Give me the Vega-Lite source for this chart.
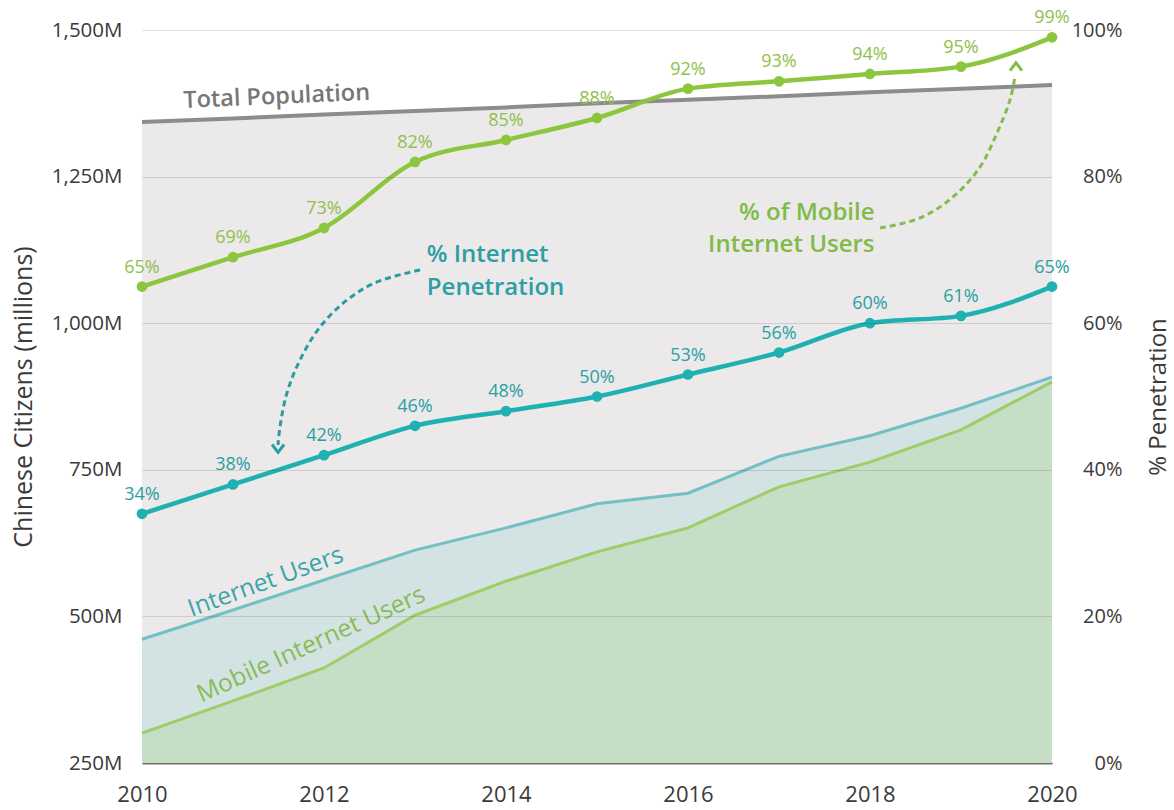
{
  "$schema": "https://vega.github.io/schema/vega-lite/v6.json",
  "width": 910,
  "height": 733,
  "autosize": {"type": "none"},
  "padding": {"left": 142, "top": 30, "right": 122, "bottom": 47},
  "config": {
    "font": "Open Sans",
    "view": {"stroke": null},
    "text": {"font": "Open Sans"}
  },
  "datasets": {
    "main": [
      {"year": 2010, "population": 1343, "internet": 461, "mobile": 301, "internet_pct": 34, "mobile_pct": 65, "internet_label": "34%", "mobile_label": "65%"},
      {"year": 2011, "population": 1349, "internet": 511, "mobile": 356, "internet_pct": 38, "mobile_pct": 69, "internet_label": "38%", "mobile_label": "69%"},
      {"year": 2012, "population": 1356, "internet": 562, "mobile": 412, "internet_pct": 42, "mobile_pct": 73, "internet_label": "42%", "mobile_label": "73%"},
      {"year": 2013, "population": 1362, "internet": 613, "mobile": 502, "internet_pct": 46, "mobile_pct": 82, "internet_label": "46%", "mobile_label": "82%"},
      {"year": 2014, "population": 1368, "internet": 651, "mobile": 560, "internet_pct": 48, "mobile_pct": 85, "internet_label": "48%", "mobile_label": "85%"},
      {"year": 2015, "population": 1375, "internet": 692, "mobile": 610, "internet_pct": 50, "mobile_pct": 88, "internet_label": "50%", "mobile_label": "88%"},
      {"year": 2016, "population": 1381, "internet": 710, "mobile": 651, "internet_pct": 53, "mobile_pct": 92, "internet_label": "53%", "mobile_label": "92%"},
      {"year": 2017, "population": 1387, "internet": 773, "mobile": 721, "internet_pct": 56, "mobile_pct": 93, "internet_label": "56%", "mobile_label": "93%"},
      {"year": 2018, "population": 1394, "internet": 808, "mobile": 763, "internet_pct": 60, "mobile_pct": 94, "internet_label": "60%", "mobile_label": "94%"},
      {"year": 2019, "population": 1400, "internet": 855, "mobile": 818, "internet_pct": 61, "mobile_pct": 95, "internet_label": "61%", "mobile_label": "95%"},
      {"year": 2020, "population": 1406, "internet": 908, "mobile": 900, "internet_pct": 65, "mobile_pct": 99, "internet_label": "65%", "mobile_label": "99%"}
    ],
    "notes": [
      {"id": "pop", "year": 2011.48, "value": 1386, "text": "Total Population"},
      {"id": "inet", "year": 2011.36, "value": 558, "text": "Internet Users"},
      {"id": "mob", "year": 2011.86, "value": 451, "text": "Mobile Internet Users"},
      {"id": "ipen", "year": 2013.13, "value": 1116, "text": "% Internet"},
      {"id": "ipen", "year": 2013.13, "value": 1060, "text": "Penetration"},
      {"id": "mpen", "year": 2018.05, "value": 1188, "text": "% of Mobile"},
      {"id": "mpen", "year": 2018.05, "value": 1133, "text": "Internet Users"}
    ],
    "arrows": [
      {"arrow": "teal", "step": 1, "year": 2013.055, "value": 1090.7},
      {"arrow": "teal", "step": 2, "year": 2012.582, "value": 1070.3},
      {"arrow": "teal", "step": 3, "year": 2012.253, "value": 1039.6},
      {"arrow": "teal", "step": 4, "year": 2011.956, "value": 993.5},
      {"arrow": "teal", "step": 5, "year": 2011.736, "value": 937.2},
      {"arrow": "teal", "step": 6, "year": 2011.593, "value": 881.0},
      {"arrow": "teal", "step": 7, "year": 2011.516, "value": 823.0},
      {"arrow": "teal", "step": 8, "year": 2011.495, "value": 792.3},
      {"arrow": "green", "step": 1, "year": 2018.11, "value": 1162.3},
      {"arrow": "green", "step": 2, "year": 2018.549, "value": 1179.4},
      {"arrow": "green", "step": 3, "year": 2018.912, "value": 1215.2},
      {"arrow": "green", "step": 4, "year": 2019.209, "value": 1266.4},
      {"arrow": "green", "step": 5, "year": 2019.396, "value": 1324.4},
      {"arrow": "green", "step": 6, "year": 2019.538, "value": 1380.6},
      {"arrow": "green", "step": 7, "year": 2019.593, "value": 1420.0}
    ],
    "heads": [
      {"arrow": "teal", "year": 2011.495, "value": 787},
      {"arrow": "green", "year": 2019.604, "value": 1437}
    ]
  },
  "encoding": {
    "x": {
      "field": "year",
      "type": "quantitative",
      "scale": {"domain": [2010, 2020], "nice": false, "zero": false},
      "axis": {
        "title": null,
        "values": [2010, 2012, 2014, 2016, 2018, 2020],
        "format": "d",
        "grid": false,
        "ticks": false,
        "tickSize": 0,
        "domain": true,
        "domainColor": "#7a7a7a",
        "domainWidth": 2,
        "labelFontSize": 22,
        "labelColor": "#3a3a3a",
        "labelPadding": 21,
        "labelFlush": false
      }
    }
  },
  "layer": [
    {
      "layer": [
        {
          "data": {"name": "main"},
          "mark": {"type": "area", "color": "#ebe9ea", "opacity": 1, "line": {"color": "#8c8c8c", "strokeWidth": 4}},
          "encoding": {
            "y": {
              "field": "population",
              "type": "quantitative",
              "scale": {"domain": [250, 1500], "nice": false, "zero": false},
              "axis": {
                "orient": "left",
                "title": "Chinese Citizens (millions)",
                "titleFontSize": 25,
                "titleFontWeight": "normal",
                "titleColor": "#3a3a3a",
                "titlePadding": 15,
                "values": [250, 500, 750, 1000, 1250, 1500],
                "labelExpr": "format(datum.value, ',') + 'M'",
                "labelFontSize": 20.5,
                "labelColor": "#3a3a3a",
                "labelPadding": 20,
                "ticks": false,
                "tickSize": 0,
                "domain": false,
                "grid": true,
                "gridColor": "#000000",
                "gridOpacity": 0.12,
                "gridWidth": 1.2,
                "zindex": 1
              }
            },
            "y2": {"datum": 250}
          }
        },
        {
          "data": {"name": "main"},
          "mark": {"type": "area", "color": "#d3e2e3", "opacity": 1, "line": {"color": "#72c0c3", "strokeWidth": 3}},
          "encoding": {
            "y": {"field": "internet", "type": "quantitative"},
            "y2": {"datum": 250}
          }
        },
        {
          "data": {"name": "main"},
          "mark": {"type": "area", "color": "#c6ddc6", "opacity": 1, "line": {"color": "#9ecd68", "strokeWidth": 3}},
          "encoding": {
            "y": {"field": "mobile", "type": "quantitative"},
            "y2": {"datum": 250}
          }
        },
        {
          "data": {"name": "notes"},
          "transform": [{"filter": "datum.id === 'pop'"}],
          "mark": {"type": "text", "fontSize": 23.5, "fontWeight": 600, "color": "#777777", "angle": -2.5, "align": "center", "baseline": "middle"},
          "encoding": {
            "y": {"field": "value", "type": "quantitative"},
            "text": {"field": "text"}
          }
        },
        {
          "data": {"name": "notes"},
          "transform": [{"filter": "datum.id === 'inet'"}],
          "mark": {"type": "text", "fontSize": 24.5, "color": "#3aa5a8", "angle": -20, "align": "center", "baseline": "middle"},
          "encoding": {
            "y": {"field": "value", "type": "quantitative"},
            "text": {"field": "text"}
          }
        },
        {
          "data": {"name": "notes"},
          "transform": [{"filter": "datum.id === 'mob'"}],
          "mark": {"type": "text", "fontSize": 24.5, "color": "#88bc55", "angle": -24.5, "align": "center", "baseline": "middle"},
          "encoding": {
            "y": {"field": "value", "type": "quantitative"},
            "text": {"field": "text"}
          }
        },
        {
          "data": {"name": "notes"},
          "transform": [{"filter": "datum.id === 'ipen'"}],
          "mark": {"type": "text", "fontSize": 24, "fontWeight": 600, "color": "#2c9fa1", "align": "left", "baseline": "middle"},
          "encoding": {
            "y": {"field": "value", "type": "quantitative"},
            "text": {"field": "text"}
          }
        },
        {
          "data": {"name": "notes"},
          "transform": [{"filter": "datum.id === 'mpen'"}],
          "mark": {"type": "text", "fontSize": 24, "fontWeight": 600, "color": "#80bb48", "align": "right", "baseline": "middle"},
          "encoding": {
            "y": {"field": "value", "type": "quantitative"},
            "text": {"field": "text"}
          }
        },
        {
          "data": {"name": "arrows"},
          "transform": [{"filter": "datum.arrow === 'teal'"}],
          "mark": {"type": "line", "color": "#2a9d9f", "strokeWidth": 3, "strokeDash": [6, 4], "interpolate": "catmull-rom"},
          "encoding": {
            "y": {"field": "value", "type": "quantitative"},
            "order": {"field": "step", "type": "quantitative"}
          }
        },
        {
          "data": {"name": "arrows"},
          "transform": [{"filter": "datum.arrow === 'green'"}],
          "mark": {"type": "line", "color": "#84bd4b", "strokeWidth": 3, "strokeDash": [6, 4], "interpolate": "catmull-rom"},
          "encoding": {
            "y": {"field": "value", "type": "quantitative"},
            "order": {"field": "step", "type": "quantitative"}
          }
        },
        {
          "data": {"name": "heads"},
          "transform": [{"filter": "datum.arrow === 'teal'"}],
          "mark": {"type": "point", "shape": "M-1,-0.6L0,0.7L1,-0.6", "filled": false, "stroke": "#2a9d9f", "strokeWidth": 3, "size": 144, "opacity": 1},
          "encoding": {
            "y": {"field": "value", "type": "quantitative"}
          }
        },
        {
          "data": {"name": "heads"},
          "transform": [{"filter": "datum.arrow === 'green'"}],
          "mark": {"type": "point", "shape": "M-1,0.6L0,-0.7L1,0.6", "filled": false, "stroke": "#84bd4b", "strokeWidth": 3, "size": 144, "opacity": 1},
          "encoding": {
            "y": {"field": "value", "type": "quantitative"}
          }
        }
      ]
    },
    {
      "data": {"name": "main"},
      "layer": [
        {
          "mark": {"type": "line", "color": "#1fb0b2", "strokeWidth": 4.5, "interpolate": "monotone"},
          "encoding": {
            "y": {
              "field": "internet_pct",
              "type": "quantitative",
              "scale": {"domain": [0, 100], "nice": false, "zero": false},
              "axis": {
                "orient": "right",
                "title": "% Penetration",
                "titleAngle": 270,
                "titleBaseline": "top",
                "titleFontSize": 24,
                "titleFontWeight": "normal",
                "titleColor": "#3a3a3a",
                "titlePadding": 24,
                "values": [0, 20, 40, 60, 80, 100],
                "labelExpr": "datum.value + '%'",
                "labelFontSize": 20,
                "labelColor": "#3a3a3a",
                "labelAlign": "right",
                "labelPadding": 70,
                "ticks": false,
                "tickSize": 0,
                "domain": false,
                "grid": false
              }
            }
          }
        },
        {
          "mark": {"type": "point", "filled": true, "color": "#1fb0b2", "size": 115, "opacity": 1},
          "encoding": {"y": {"field": "internet_pct", "type": "quantitative"}}
        },
        {
          "mark": {"type": "text", "fontSize": 18, "color": "#2a9fa2", "dy": -19, "baseline": "middle"},
          "encoding": {
            "y": {"field": "internet_pct", "type": "quantitative"},
            "text": {"field": "internet_label"}
          }
        },
        {
          "mark": {"type": "line", "color": "#8cc63f", "strokeWidth": 4.5, "interpolate": "monotone"},
          "encoding": {"y": {"field": "mobile_pct", "type": "quantitative"}}
        },
        {
          "mark": {"type": "point", "filled": true, "color": "#8cc63f", "size": 115, "opacity": 1},
          "encoding": {"y": {"field": "mobile_pct", "type": "quantitative"}}
        },
        {
          "mark": {"type": "text", "fontSize": 18, "color": "#8fc04c", "dy": -19, "baseline": "middle"},
          "encoding": {
            "y": {"field": "mobile_pct", "type": "quantitative"},
            "text": {"field": "mobile_label"}
          }
        }
      ]
    }
  ],
  "resolve": {"scale": {"y": "independent"}}
}
